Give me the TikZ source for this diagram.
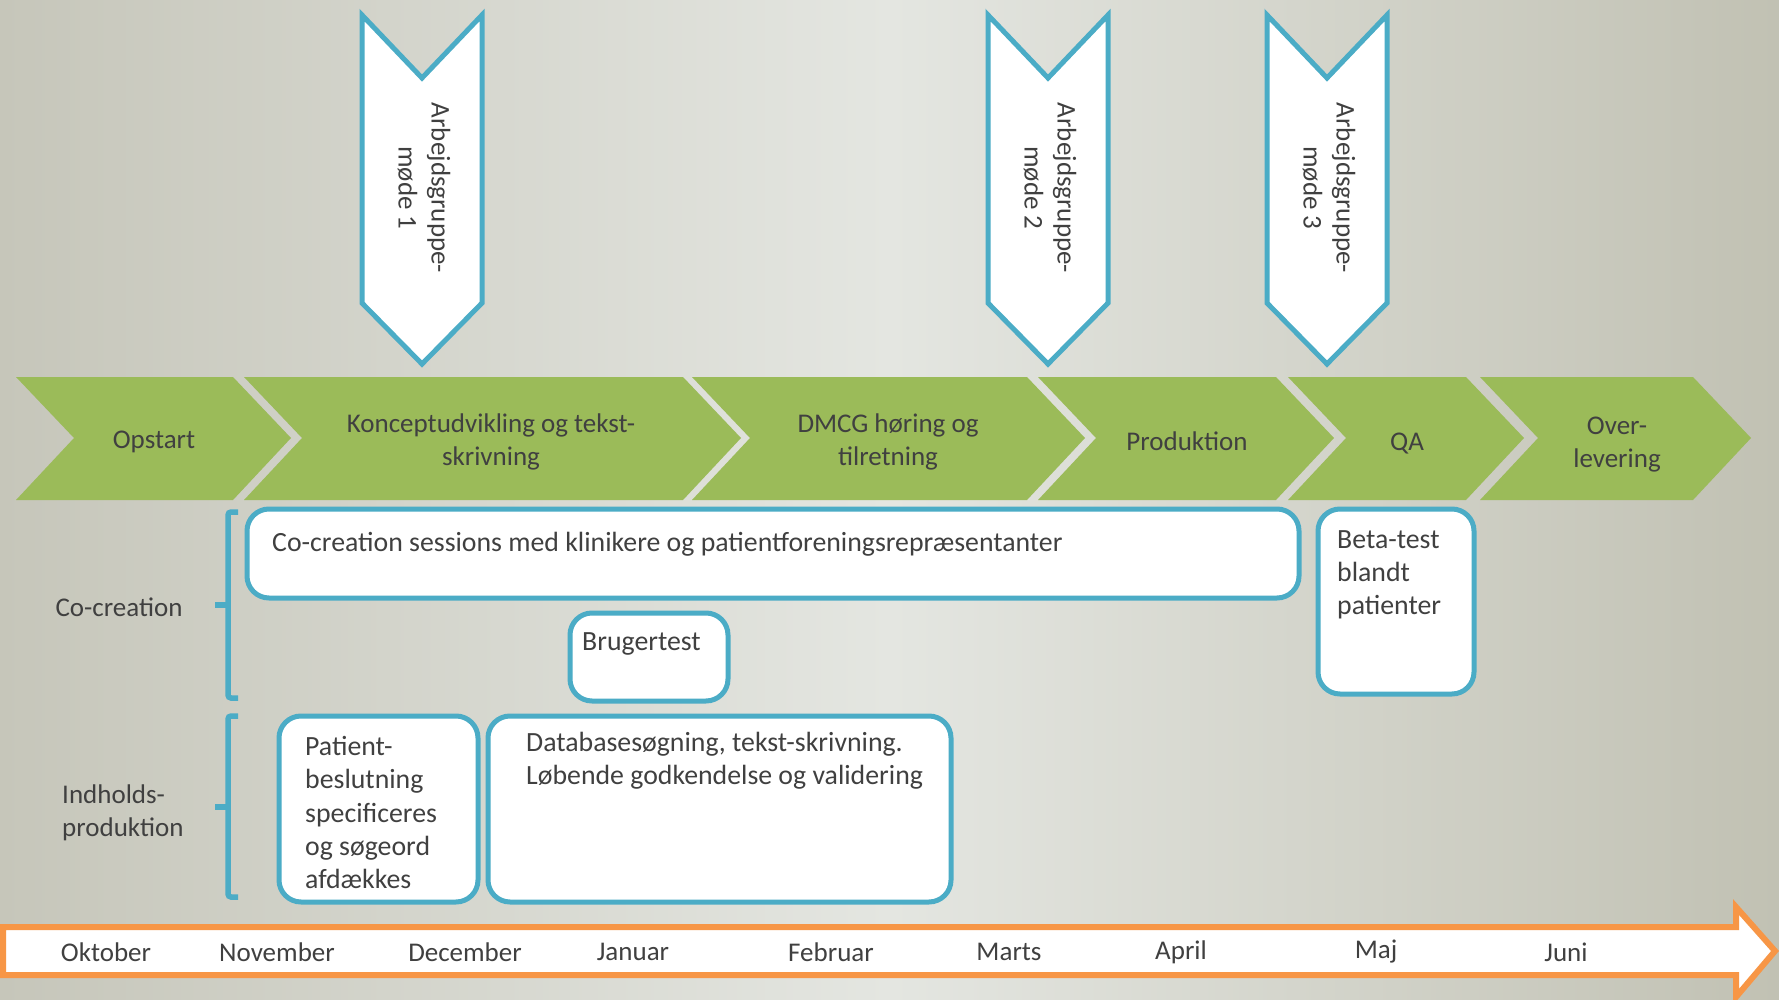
\documentclass[tikz,border=0pt]{standalone}
\usepackage{fontspec}
\setmainfont{Carlito}
\definecolor{cgreen}{HTML}{9BBB59}
\definecolor{cblue}{HTML}{4BACC6}
\definecolor{corange}{HTML}{F79646}
\definecolor{ctext}{HTML}{404040}
\definecolor{bgL}{HTML}{C6C6BA}
\definecolor{bgM}{HTML}{E4E6E1}
\definecolor{bgR}{HTML}{C1C1B3}
\begin{document}
\begin{tikzpicture}[x=1pt,y=-1pt,
  chev/.style={fill=cgreen},
  lbl/.style={text=ctext, inner sep=0pt, font=\fontsize{27}{33}\selectfont},
  ctr/.style={lbl, align=center},
  lft/.style={lbl, align=left, anchor=north west, font=\fontsize{27.8}{33.3}\selectfont},
  penta/.style={draw=cblue, line width=5pt, fill=white, line join=miter},
  rbox/.style={draw=cblue, line width=5pt, fill=white, rounded corners=22pt},
  brk/.style={draw=cblue, line width=5.5pt, rounded corners=3pt},
  tline/.style={draw=corange, line width=6pt, fill=white, line join=miter}
]
\useasboundingbox (0,0) rectangle (1779,1000);
\shade[left color=bgL, right color=bgR, middle color=bgM] (0,0) rectangle (1779,1000);

% chevrons
\fill[chev] (16,377) -- (233,377) -- (291,438) -- (233,500) -- (16,500) -- (74,438) -- cycle;
\fill[chev] (244,377) -- (683,377) -- (741,438) -- (683,500) -- (244,500) -- (302,438) -- cycle;
\fill[chev] (692,377) -- (1027,377) -- (1085,438) -- (1027,500) -- (692,500) -- (750,438) -- cycle;
\fill[chev] (1038,377) -- (1276,377) -- (1334,438) -- (1276,500) -- (1038,500) -- (1096,438) -- cycle;
\fill[chev] (1288,377) -- (1466,377) -- (1524,438) -- (1466,500) -- (1288,500) -- (1346,438) -- cycle;
\fill[chev] (1480,377) -- (1693,377) -- (1751,438) -- (1693,500) -- (1480,500) -- (1538,438) -- cycle;
\node[ctr] (c1) at (154,441.5) {Opstart};
\node[ctr] (c2) at (491,441.5) {Konceptudvikling og tekst-\\skrivning};
\node[ctr] (c3) at (888,441.5) {DMCG høring og\\tilretning};
\node[ctr] (c4) at (1187,441.5) {Produktion};
\node[ctr] (c5) at (1407,443.5) {QA};
\node[ctr] (c6) at (1617,444.5) {Over-\\levering};

% meeting pentagons
\draw[penta] (362,15) -- (422,78) -- (482,15) -- (482,303) -- (422,364) -- (362,303) -- cycle;
\draw[penta] (988,15) -- (1048,78) -- (1108,15) -- (1108,303) -- (1048,364) -- (988,303) -- cycle;
\draw[penta] (1267,15) -- (1327,78) -- (1387,15) -- (1387,303) -- (1327,364) -- (1267,303) -- cycle;
\node[ctr, rotate=-90] (m1) at (424,188) {Arbejdsgruppe-\\møde 1};
\node[ctr, rotate=-90] (m2) at (1050,188) {Arbejdsgruppe-\\møde 2};
\node[ctr, rotate=-90] (m3) at (1329,188) {Arbejdsgruppe-\\møde 3};

% boxes
\draw[rbox] (247,509) rectangle (1299,598);
\draw[rbox] (570,613) rectangle (728,701);
\draw[rbox] (1318,509) rectangle (1474,694);
\draw[rbox] (279,716) rectangle (478,902);
\draw[rbox] (488,716) rectangle (951,902);
\node[lft] (t1) at (272,532) {Co-creation sessions med klinikere og patientforeningsrepræsentanter};
\node[lft] (t2) at (582,632) {Brugertest};
\node[lft] (t3) at (1337,530) {Beta-test\\blandt\\patienter};
\node[lft] (t4) at (305,736) {Patient-\\beslutning\\specificeres\\og søgeord\\afdækkes};
\node[lft] (t5) at (526,732) {Databasesøgning, tekst-skrivning.\\Løbende godkendelse og validering};

% brackets
\draw[brk] (238,512) -- (228,512) -- (228,698) -- (238,698);
\draw[brk] (228,605) -- (215,605);
\draw[brk] (238,716) -- (228,716) -- (228,897) -- (238,897);
\draw[brk] (228,807) -- (215,807);
\node[ctr] (g1) at (119,607) {Co-creation};
\node[lbl, align=left, anchor=west] (g2) at (62,813) {Indholds-\\produktion};

% timeline
\draw[tline] (3,927) -- (1736,927) -- (1736,907) -- (1775,951) -- (1736,997) -- (1736,975) -- (3,975) -- cycle;
\foreach \m/\x in {Oktober/106, November/277, December/465, Januar/633, Februar/831, Marts/1009, April/1181, Maj/1376, Juni/1566}
  \node[ctr] (mo-\m) at (\x,952) {\m};
\end{tikzpicture}
\end{document}
